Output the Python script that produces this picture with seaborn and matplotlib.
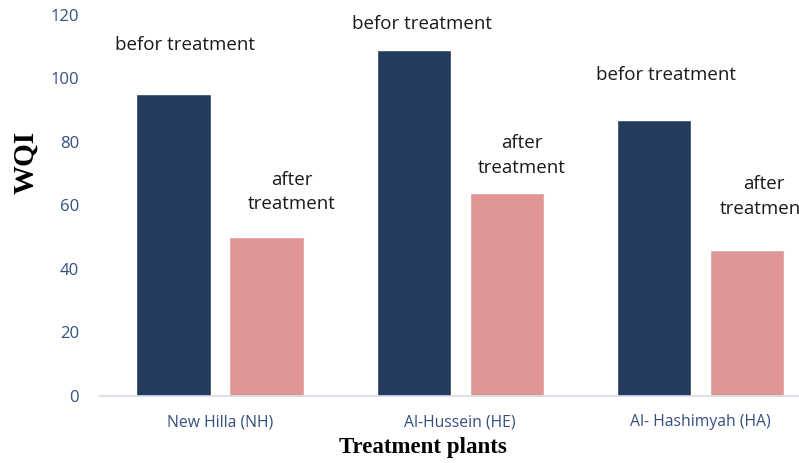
import matplotlib
matplotlib.use("Agg")
import matplotlib.pyplot as plt
import seaborn as sns
import pandas as pd

# WQI of the three treatment plants, before and after treatment
plants = ["New Hilla (NH)", "Al-Hussein (HE)", "Al- Hashimyah (HA)"]
stages = ["befor treatment", "after treatment"]
wqi_before = [95, 109, 87]
wqi_after = [50, 64, 46]

df = pd.DataFrame({
    "plant": plants * 2,
    "stage": [stages[0]] * 3 + [stages[1]] * 3,
    "WQI": wqi_before + wqi_after,
})

sns.set_theme(style="white")
plt.rcParams["font.family"] = ["Open Sans", "DejaVu Sans"]

navy = "#243B5E"
pink = "#E09697"
tick_col = "#34507E"

fig = plt.figure(figsize=(7.99, 4.63), dpi=100)
ax = fig.add_axes([0.125, 0.1447, 0.875, 0.823])

sns.barplot(data=df, x="plant", y="WQI", hue="stage", order=plants,
            hue_order=stages, palette=[navy, pink], width=0.774, gap=0.2,
            saturation=1, legend=False, ax=ax)

ax.set_ylim(0, 120)
ax.set_yticks(range(0, 121, 20))
ax.set_xlim(-0.5, 2.41)
for s in ["top", "right", "left"]:
    ax.spines[s].set_visible(False)
ax.spines["bottom"].set_color("#D3DBE6")
ax.spines["bottom"].set_linewidth(1.2)
ax.tick_params(axis="y", length=0, labelsize=12, labelcolor=tick_col, pad=15)
ax.tick_params(axis="x", length=0, labelsize=11.3, labelcolor=tick_col, pad=13)

serif = ["Liberation Serif", "DejaVu Serif"]
ax.set_ylabel("WQI", family=serif, fontweight="bold", fontsize=21,
              color="black", va="center")
ax.yaxis.set_label_coords(-0.106, 0.612)
ax.set_xlabel("Treatment plants", family=serif, fontweight="bold",
              fontsize=16.5, color="black", va="center")
ax.xaxis.set_label_coords(0.462, -0.134)

# Stage labels over each group
lab = dict(ha="center", va="center", fontsize=13.5, color="#1A1A1A",
           linespacing=1.45, clip_on=False)
before_pos = [(-0.146, 110.4), (0.842, 117.2), (1.858, 101.2)]
after_pos = [(0.30, 64.3), (1.255, 75.7), (2.262, 62.8)]
for x, y in before_pos:
    ax.text(x, y, "befor treatment", **lab)
for x, y in after_pos:
    ax.text(x, y, "after\ntreatment", **lab)

fig.savefig("out.png", dpi=100)
